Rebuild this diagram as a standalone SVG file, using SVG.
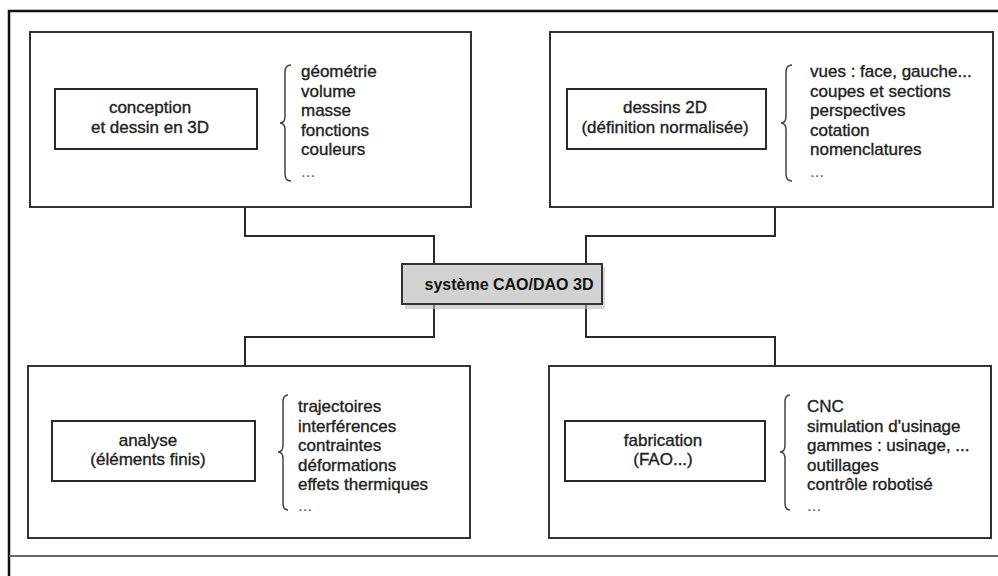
<svg xmlns="http://www.w3.org/2000/svg" width="998" height="576" viewBox="0 0 998 576">
<defs>
<style>
.frame{fill:none;stroke:#111;stroke-width:2.5}
.box{fill:none;stroke:#333;stroke-width:2}
.inner{fill:none;stroke:#2a2a2a;stroke-width:2}
.conn{fill:none;stroke:#2a2a2a;stroke-width:2}
.brace{fill:none;stroke:#444;stroke-width:1.5}
.t{font-family:"Liberation Sans",Arial,sans-serif;font-size:17px;fill:#222;stroke:#222;stroke-width:0.35}
.c{text-anchor:middle}
.b{font-weight:bold;font-size:16px;fill:#111;stroke:none}
.dots{fill:#666;stroke:none}
</style>
</defs>
<rect width="998" height="576" fill="#fff"/>
<g id="frame">
<path class="frame" d="M9,576 V11 H998"/>
<line x1="9" y1="556" x2="998" y2="556" stroke="#666" stroke-width="2"/>
</g>
<g id="connectors">
<path class="conn" d="M245,207 V236 H434 V264"/>
<path class="conn" d="M775,207 V236 H586 V264"/>
<path class="conn" d="M434,304 V337 H245 V366"/>
<path class="conn" d="M586,304 V337 H775 V366"/>
</g>
<g id="center">
<rect x="405" y="267" width="200" height="42" fill="#bdbdbd" opacity="0.6"/>
<rect x="402" y="264" width="200" height="40" fill="#d2d2d2" stroke="#333" stroke-width="2"/>
<text class="t b c" x="509" y="290">système CAO/DAO 3D</text>
</g>
<g id="conception">
<rect class="box" x="30" y="32" width="441" height="175"/>
<rect class="inner" x="55" y="89" width="202" height="60"/>
<text class="t c" x="150" y="113">conception</text>
<text class="t c" x="150" y="133">et dessin en 3D</text>
<path class="brace" d="M291,65 Q285,65 285,72 V116 Q285,123 280,123 Q285,123 285,130 V174 Q285,181 291,181"/>
<text class="t" x="301" y="77">géométrie</text>
<text class="t" x="301" y="96.5">volume</text>
<text class="t" x="301" y="116">masse</text>
<text class="t" x="301" y="135.5">fonctions</text>
<text class="t" x="301" y="155">couleurs</text>
<text class="t dots" x="301" y="177">...</text>
</g>
<g id="dessins">
<rect class="box" x="550" y="32" width="443" height="175"/>
<rect class="inner" x="567" y="89" width="199" height="60"/>
<text class="t c" x="665" y="113">dessins 2D</text>
<text class="t c" x="665" y="133">(définition normalisée)</text>
<path class="brace" d="M792,65 Q786,65 786,72 V116 Q786,123 781,123 Q786,123 786,130 V174 Q786,181 792,181"/>
<text class="t" x="810" y="77">vues : face, gauche...</text>
<text class="t" x="810" y="96.5">coupes et sections</text>
<text class="t" x="810" y="116">perspectives</text>
<text class="t" x="810" y="135.5">cotation</text>
<text class="t" x="810" y="155">nomenclatures</text>
<text class="t dots" x="810" y="177">...</text>
</g>
<g id="analyse">
<rect class="box" x="28" y="366" width="442" height="172"/>
<rect class="inner" x="52" y="421" width="203" height="60"/>
<text class="t c" x="148" y="446">analyse</text>
<text class="t c" x="148" y="465">(éléments finis)</text>
<path class="brace" d="M288,395 Q283,395 283,402 V445 Q283,452 278,452 Q283,452 283,459 V503 Q283,510 288,510"/>
<text class="t" x="298" y="412">trajectoires</text>
<text class="t" x="298" y="431.5">interférences</text>
<text class="t" x="298" y="451">contraintes</text>
<text class="t" x="298" y="470.5">déformations</text>
<text class="t" x="298" y="490">effets thermiques</text>
<text class="t dots" x="298" y="511">...</text>
</g>
<g id="fabrication">
<rect class="box" x="549" y="366" width="442" height="172"/>
<rect class="inner" x="565" y="421" width="200" height="60"/>
<text class="t c" x="663" y="446">fabrication</text>
<text class="t c" x="663" y="465">(FAO...)</text>
<path class="brace" d="M790,395 Q785,395 785,402 V445 Q785,452 780,452 Q785,452 785,459 V503 Q785,510 790,510"/>
<text class="t" x="807" y="412">CNC</text>
<text class="t" x="807" y="431.5">simulation d'usinage</text>
<text class="t" x="807" y="451">gammes : usinage, ...</text>
<text class="t" x="807" y="470.5">outillages</text>
<text class="t" x="807" y="490">contrôle robotisé</text>
<text class="t dots" x="807" y="511">...</text>
</g>
</svg>
